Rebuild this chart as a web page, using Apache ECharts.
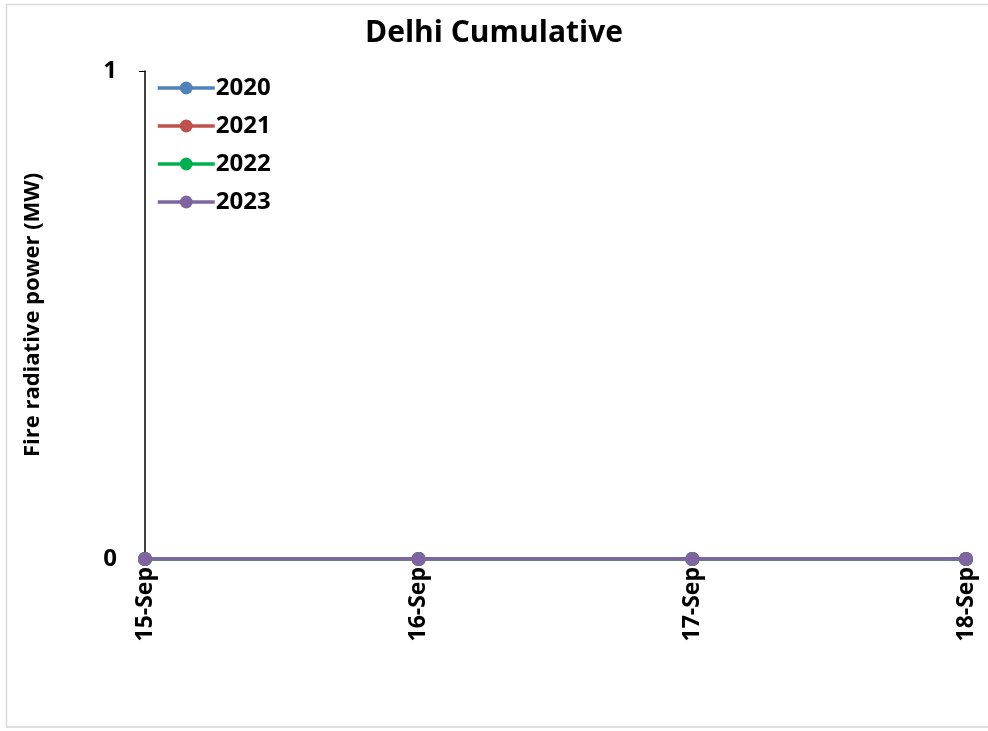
<!DOCTYPE html>
<html><head><meta charset="utf-8">
<script src="https://cdn.jsdelivr.net/npm/echarts@6/dist/echarts.min.js"></script>
<style>html,body{margin:0;padding:0;background:#fff}#c{width:988px;height:731px}</style>
</head><body><div id="c"></div>
<script>
const categories = ['15-Sep','16-Sep','17-Sep','18-Sep'];
const seriesNames = ['2020','2021','2022','2023'];
const values2020 = [0,0,0,0];
const values2021 = [0,0,0,0];
const values2022 = [0,0,0,0];
const values2023 = [0,0,0,0];
const yTicks = [0,1];
const colors = ['#4F81BD','#C0504D','#00B050','#8064A2'];
const allValues = [values2020, values2021, values2022, values2023];
const FONT = '"Open Sans", sans-serif';

const chart = echarts.init(document.getElementById('c'));
chart.setOption({
  animation:false,
  title:{text:'Delhi Cumulative',left:'center',top:13,textStyle:{fontFamily:FONT,fontWeight:'bold',fontSize:30,color:'#000'}},
  graphic:[{type:'rect',shape:{x:6.5,y:4.5,width:990,height:722.5},style:{fill:'none',stroke:'#d9d9d9',lineWidth:1.5},z:-10}],
  legend:{left:151,top:71,orient:'vertical',itemWidth:57,itemHeight:16,itemGap:14,
    lineStyle:{width:3.5},
    textStyle:{fontFamily:FONT,fontWeight:'bold',fontSize:24,color:'#000',padding:[0,0,0,-4]},
    data:seriesNames},
  grid:{left:145,right:22,top:71,bottom:172,containLabel:false},
  xAxis:{type:'category',data:categories,boundaryGap:false,
    axisLine:{lineStyle:{color:'#000',width:1.5}},
    axisTick:{show:true,length:5,lineStyle:{color:'#000'}},
    axisLabel:{rotate:90,fontFamily:FONT,fontWeight:'bold',fontSize:23,color:'#000',margin:8}},
  yAxis:{type:'value',min:yTicks[0],max:yTicks[yTicks.length-1],interval:1,
    name:'Fire radiative power (MW)',nameLocation:'middle',nameGap:101,
    nameTextStyle:{fontFamily:FONT,fontWeight:'bold',fontSize:22,color:'#000'},
    axisLine:{show:true,lineStyle:{color:'#000',width:1.5}},
    axisTick:{show:true,length:6,lineStyle:{color:'#000'}},
    splitLine:{show:false},
    axisLabel:{fontFamily:FONT,fontWeight:'bold',fontSize:24,color:'#000',margin:28}},
  series:seriesNames.map((n,i)=>({name:n,type:'line',data:allValues[i],symbol:'circle',symbolSize:14,
    itemStyle:{color:colors[i]},lineStyle:{color:colors[i],width:3.5},z:2+i}))
});
</script></body></html>
